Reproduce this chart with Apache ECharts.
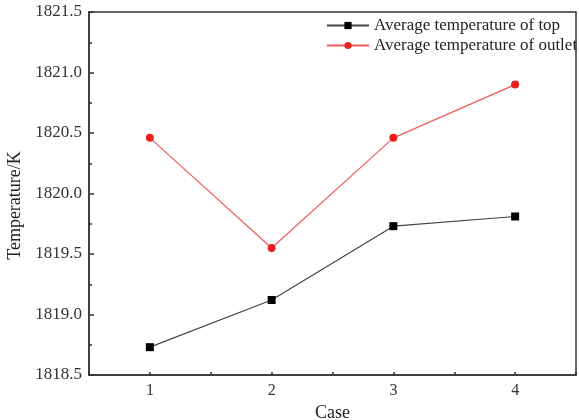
<!DOCTYPE html>
<html>
<head>
<meta charset="utf-8">
<script src="https://cdn.jsdelivr.net/npm/echarts@6/dist/echarts.min.js"></script>
<style>
  html, body { margin: 0; padding: 0; background: #fff; }
  #myChart { width: 579px; height: 420px; }
</style>
</head>
<body>
<div id="myChart"></div>
<script>
var cases = ['1', '2', '3', '4'];
var topTemp = [1818.73, 1819.12, 1819.73, 1819.81];
var outletTemp = [1820.46, 1819.55, 1820.46, 1820.90];
var seriesNames = ['Average temperature of top', 'Average temperature of outlet'];

var font = '"Liberation Serif", "Times New Roman", serif';
var axisColor = '#333';

var myChart = echarts.init(document.getElementById('myChart'));

var option = {
    animation: false,
    textStyle: { fontFamily: font },
    grid: {
        left: 89,
        right: 3,
        top: 12,
        bottom: 45,
        outerBoundsMode: 'none',
        show: true,
        borderColor: axisColor,
        borderWidth: 1.5
    },
    legend: {
        orient: 'vertical',
        left: 321,
        top: 12,
        itemWidth: 42,
        itemHeight: 9,
        itemGap: 3,
        textStyle: { fontFamily: font, fontSize: 17, color: '#222' },
        data: seriesNames
    },
    xAxis: [{
        type: 'category',
        data: cases,
        boundaryGap: true,
        name: 'Case',
        nameLocation: 'middle',
        nameGap: 22,
        nameTextStyle: { fontFamily: font, fontSize: 18, color: '#222' },
        axisLine: { lineStyle: { color: axisColor, width: 1.5 } },
        axisTick: { alignWithLabel: true, inside: true, length: 5, lineStyle: { color: axisColor, width: 1.5 } },
        axisLabel: { fontFamily: font, fontSize: 16, color: '#333', margin: 8 },
        splitLine: { show: false }
    }, {
        type: 'value',
        position: 'bottom',
        min: 0.5,
        max: 4.5,
        interval: 0.5,
        axisLine: { show: false },
        axisTick: { inside: true, length: 3, lineStyle: { color: axisColor, width: 1.5 } },
        axisLabel: { show: false },
        splitLine: { show: false }
    }],
    yAxis: {
        type: 'value',
        min: 1818.5,
        max: 1821.5,
        interval: 0.5,
        name: 'Temperature/K',
        nameLocation: 'middle',
        nameGap: 62,
        nameTextStyle: { fontFamily: font, fontSize: 18, color: '#222', padding: [0, 24, 0, 0] },
        axisLine: { show: true, lineStyle: { color: axisColor, width: 1.5 } },
        axisTick: { show: true, inside: true, length: 5, lineStyle: { color: axisColor, width: 1.5 } },
        minorTick: { show: true, splitNumber: 2, length: 3, lineStyle: { color: axisColor, width: 1.5 } },
        axisLabel: {
            fontFamily: font, fontSize: 17, color: '#333', margin: 7,
            formatter: function (v) { return v.toFixed(1); }
        },
        splitLine: { show: false }
    },
    series: [{
        name: seriesNames[0],
        type: 'line',
        data: topTemp,
        symbol: 'rect',
        symbolSize: 8,
        itemStyle: { color: '#000' },
        lineStyle: { color: '#444', width: 1.2 }
    }, {
        name: seriesNames[1],
        type: 'line',
        data: outletTemp,
        symbol: 'circle',
        symbolSize: 8,
        itemStyle: { color: '#e8201e' },
        lineStyle: { color: '#f25a5a', width: 1.2 }
    }]
};
myChart.setOption(option);

window.onresize = function () {
    myChart.resize();
};
</script>
</body>
</html>
